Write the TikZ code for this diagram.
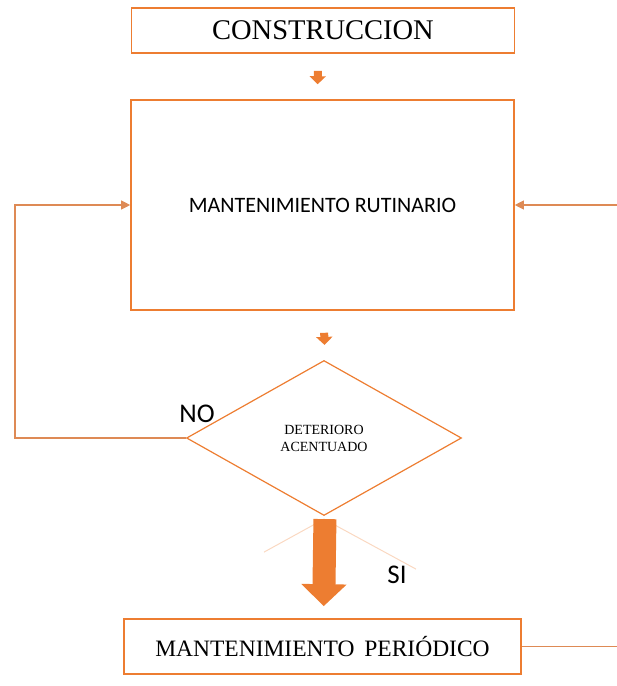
\documentclass[tikz,border=0pt]{standalone}
\usepackage{fontspec}
\setmainfont{Liberation Serif}
\newfontfamily\calibri{Carlito}
\usetikzlibrary{arrows.meta,shapes.geometric}

\definecolor{naranja}{HTML}{ED7D31}
\definecolor{linea}{HTML}{DE8A55}

\begin{document}
\begin{tikzpicture}[x=1pt,y=-1pt,
	caja/.style={draw=naranja, line width=1.6pt, fill=white, inner sep=0pt},
	rombo/.style={diamond, draw=naranja, line width=1.2pt, inner sep=0pt,
		minimum width=275pt, minimum height=155pt, align=center},
	conector/.style={draw=linea, line width=1.1pt, -{Triangle[width=9pt,length=9pt]}},
	bloque/.style={draw=naranja, line width=8pt, -{Triangle[width=16pt,length=8pt]}},
	bloquegrande/.style={draw=naranja, line width=23pt, -{Triangle[width=44pt,length=22pt]}},
	reflejo/.style={draw=naranja!30, line width=1pt}]
		\useasboundingbox (0,0) rectangle (617,686);
		
		% Boxes
		\node[caja, minimum width=383pt, minimum height=45pt] (cons) at (323,30.5)
			{\fontsize{28.5}{30}\selectfont CONSTRUCCION};
		\node[caja, minimum width=383pt, minimum height=210pt] (rut) at (322.5,205)
			{\calibri\fontsize{22}{24}\selectfont MANTENIMIENTO RUTINARIO};
		\node[rombo, font=\fontsize{14}{17}\selectfont] (det) at (324,438)
			{DETERIORO\\ACENTUADO};
		\node[caja, minimum width=397pt, minimum height=55pt] (per) at (322.5,646.5)
			{\fontsize{23.5}{25}\selectfont MANTENIMIENTO\hspace{0.42em}PERIÓDICO};
		
		% Reflections
		\draw[reflejo] ([yshift=-3pt]det.south) -- +(-60,33);
		\draw[reflejo] ([yshift=-3pt]det.south) -- +(92,50);
		
		% Labels
		\node[font=\calibri\fontsize{27}{29}\selectfont] (no) at (197,414) {NO};
		\node[font=\calibri\fontsize{27}{29}\selectfont] (si) at (397,575) {SI};
		
		% Block arrows
		\draw[bloque, shorten <=17pt, shorten >=15pt] ([xshift=-5pt]cons.south) -- ([xshift=-5pt]rut.north);
		\draw[bloque, shorten <=22pt, shorten >=15pt] ([xshift=1pt]rut.south) -- ([xshift=1pt]det.north);
		\draw[bloquegrande, shorten <=3pt, shorten >=12pt] ([xshift=1pt]det.south) -- ([xshift=1pt]per.north);
		
		% Loops
		\coordinate (der) at (617,205);
		\coordinate (fin) at (617,646.5);
		\draw[conector] (det.west) -- (15,438) |- (rut.west);
		\draw[conector] (der) -- (rut.east);
		\draw[draw=linea, line width=1.1pt] (per.east) -- (fin);
	\end{tikzpicture}
\end{document}
